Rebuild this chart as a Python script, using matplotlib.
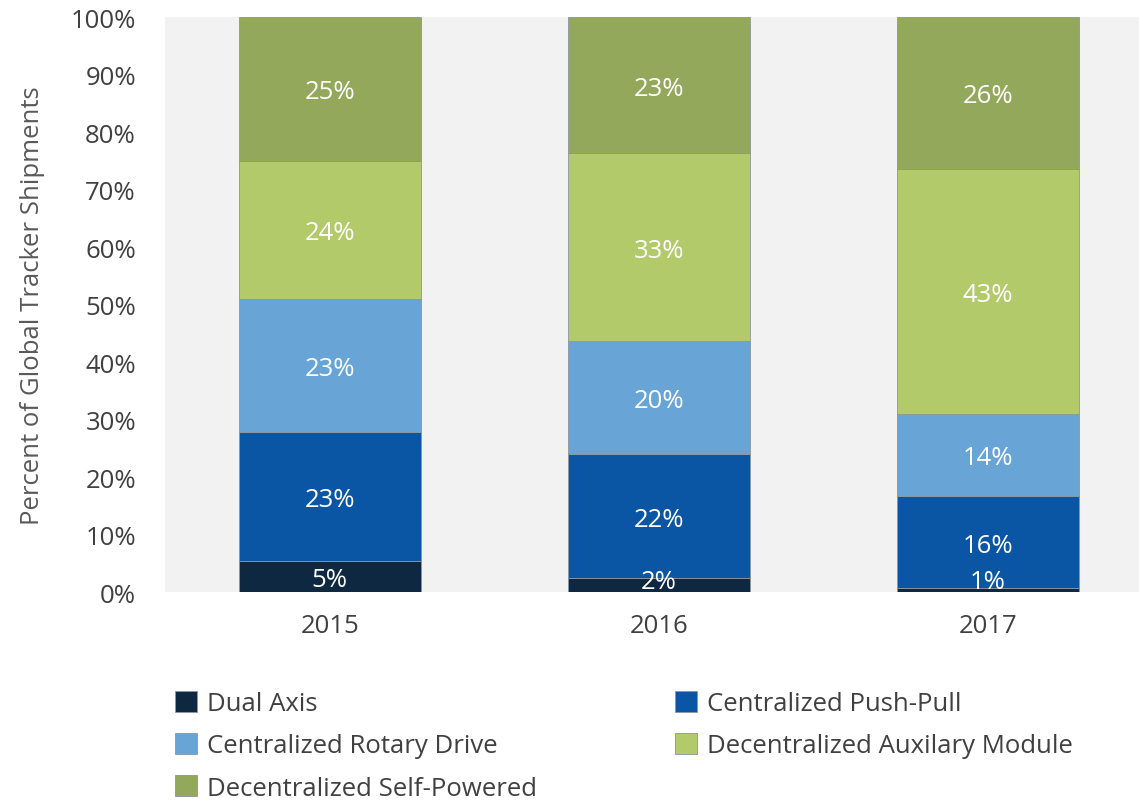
import matplotlib.pyplot as plt
import numpy as np

years = ['2015', '2016', '2017']
series = ['Dual Axis', 'Centralized Push-Pull', 'Centralized Rotary Drive',
          'Decentralized Auxilary Module', 'Decentralized Self-Powered']
dual_axis = [5.4, 2.4, 0.7]
push_pull = [22.4, 21.6, 16.0]
rotary = [23.2, 19.7, 14.3]
aux_module = [24.0, 32.6, 42.6]
self_powered = [25.0, 23.7, 26.4]
labels = [['5%', '2%', '1%'],
          ['23%', '22%', '16%'],
          ['23%', '20%', '14%'],
          ['24%', '33%', '43%'],
          ['25%', '23%', '26%']]
colors = ['#0e2841', '#0b56a4', '#68a4d6', '#b3ca6a', '#93a85b']

plt.rcParams['font.family'] = ['Open Sans', 'DejaVu Sans']
fs = 18.5

fig = plt.figure(figsize=(11.39, 8.04), dpi=100)
ax = fig.add_axes([0.145, 0.2624, 0.855, 0.7152])
ax.set_facecolor('#f2f2f2')

x = np.arange(len(years))
bottom = np.zeros(len(years))
handles = []
for i, vals in enumerate([dual_axis, push_pull, rotary, aux_module, self_powered]):
    vals = np.array(vals)
    b = ax.bar(x, vals, 0.553, bottom=bottom, color=colors[i],
               edgecolor='#8c96a0', linewidth=0.6, label=series[i])
    handles.append(b)
    for j in range(len(years)):
        yc = max(bottom[j] + vals[j] / 2, 2.3)
        ax.text(x[j], yc, labels[i][j], ha='center', va='center_baseline',
                color='white', fontsize=fs)
    bottom += vals

ax.set_xlim(-0.5, 2.46)
ax.set_ylim(0, 100)
ax.set_yticks(np.arange(0, 101, 10))
ax.set_yticklabels(['{}%'.format(v) for v in range(0, 101, 10)])
ax.set_xticks(x)
ax.set_xticklabels(years)
ax.tick_params(length=0, labelsize=fs, labelcolor='#404040')
ax.tick_params(axis='y', pad=21)
ax.tick_params(axis='x', pad=15)
for s in ax.spines.values():
    s.set_visible(False)
ax.set_ylabel('Percent of Global Tracker Shipments', fontsize=fs, color='#595959')
ax.yaxis.set_label_coords(-0.123, 0.5)

order = [0, 2, 4, 1, 3]
fig.legend([handles[k] for k in order], [series[k] for k in order],
           loc='upper left', bbox_to_anchor=(0.1536, 0.139), ncol=2, frameon=False,
           fontsize=fs, handlelength=0.85, handleheight=0.85, handletextpad=0.4,
           columnspacing=5.37, labelspacing=0.66, labelcolor='#404040',
           borderpad=0, borderaxespad=0)

fig.savefig('out.png', dpi=100)
